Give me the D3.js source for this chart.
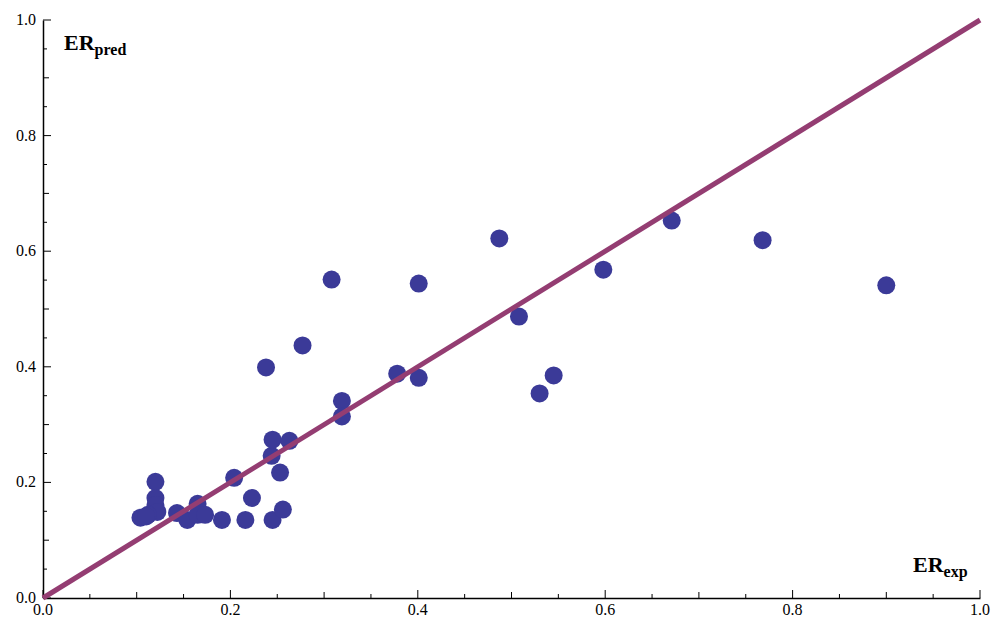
<!DOCTYPE html>
<html><head><meta charset="utf-8">
<script src="https://cdn.jsdelivr.net/npm/d3@7"></script>
<style>body{margin:0;background:#fff}</style></head>
<body><svg id="chart" width="1000" height="629"></svg>
<script>
// data
var expVals = [0.120,0.120,0.120,0.122,0.112,0.104,0.110,0.143,0.154,0.165,0.165,0.173,0.191,0.204,0.216,0.223,0.245,0.253,0.244,0.245,0.238,0.277,0.263,0.256,0.308,0.319,0.319,0.378,0.401,0.401,0.487,0.508,0.530,0.545,0.598,0.671,0.768,0.900];
var predVals = [0.201,0.173,0.161,0.149,0.144,0.139,0.141,0.147,0.135,0.163,0.144,0.144,0.135,0.208,0.135,0.173,0.135,0.217,0.246,0.274,0.399,0.437,0.272,0.153,0.551,0.341,0.314,0.388,0.381,0.544,0.622,0.487,0.354,0.385,0.568,0.653,0.619,0.541];
var majorTicks = [0, 0.2, 0.4, 0.6, 0.8, 1.0];
var minorTicks = d3.range(0, 1.0001, 0.05);

var svg = d3.select("#chart");
var x = d3.scaleLinear().domain([0, 1]).range([43, 980]);
var y = d3.scaleLinear().domain([0, 1]).range([598, 20]);
var font = "'Liberation Serif', 'DejaVu Serif', serif";

// axes
var xAxis = svg.append("g").attr("transform", "translate(0,598)")
  .call(d3.axisBottom(x).tickValues(minorTicks).tickSize(0).tickFormat(""));
xAxis.select(".domain").attr("stroke", "#000").attr("stroke-width", 1.5);
var yAxis = svg.append("g").attr("transform", "translate(43,0)")
  .call(d3.axisLeft(y).tickValues(minorTicks).tickSize(0).tickFormat(""));
yAxis.select(".domain").attr("stroke", "#000").attr("stroke-width", 1.5);

// ticks drawn inward
minorTicks.forEach(function(t, i) {
  var len = (i % 4 === 0) ? 8 : (i % 2 === 0 ? 6 : 4);
  svg.append("line").attr("x1", x(t)).attr("x2", x(t)).attr("y1", 598).attr("y2", 598 - len).attr("stroke", "#000");
  svg.append("line").attr("y1", y(t)).attr("y2", y(t)).attr("x1", 43).attr("x2", 43 + len).attr("stroke", "#000");
});
majorTicks.forEach(function(t) {
  svg.append("text").attr("x", x(t)).attr("y", 615).attr("text-anchor", "middle")
    .attr("font-family", font).attr("font-size", 16).text(t.toFixed(1));
  svg.append("text").attr("x", 36).attr("y", y(t) + 5).attr("text-anchor", "end")
    .attr("font-family", font).attr("font-size", 16).text(t.toFixed(1));
});

// points
svg.append("g").selectAll("circle").data(expVals).join("circle")
  .attr("cx", function(d) { return x(d); })
  .attr("cy", function(d, i) { return y(predVals[i]); })
  .attr("r", 9).attr("fill", "#3b3a98");

// identity line
svg.append("line").attr("x1", x(0)).attr("y1", y(0)).attr("x2", x(1)).attr("y2", y(1))
  .attr("stroke", "#943d72").attr("stroke-width", 5);

// labels
var t1 = svg.append("text").attr("x", 64).attr("y", 50).attr("font-family", font)
  .attr("font-weight", "bold").attr("font-size", 22);
t1.append("tspan").text("ER");
t1.append("tspan").attr("font-size", 16).attr("dy", 5).text("pred");
var t2 = svg.append("text").attr("x", 913).attr("y", 572).attr("font-family", font)
  .attr("font-weight", "bold").attr("font-size", 22);
t2.append("tspan").text("ER");
t2.append("tspan").attr("font-size", 16).attr("dy", 5).text("exp");
</script></body></html>
